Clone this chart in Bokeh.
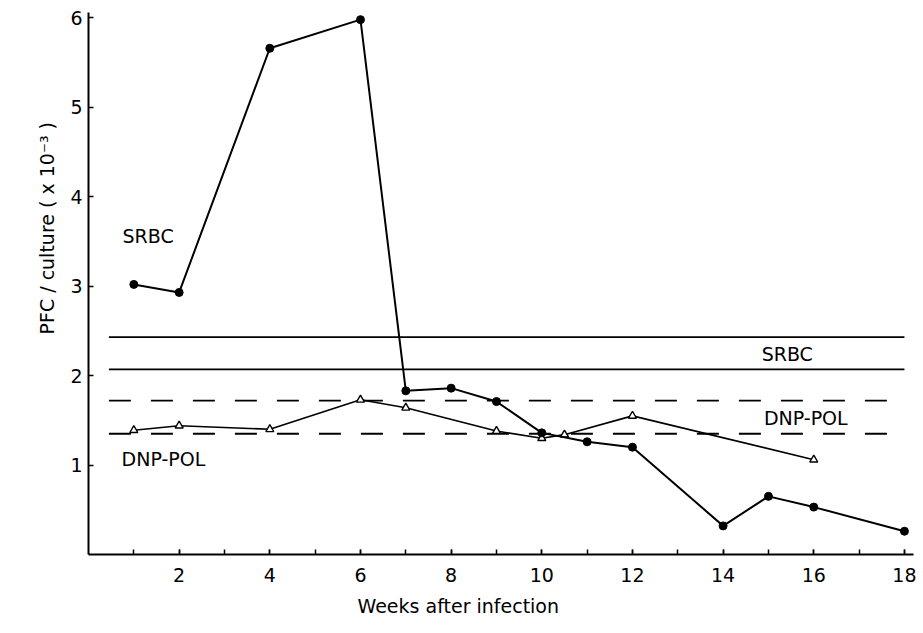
import math
from bokeh.plotting import figure
from bokeh.models import FixedTicker, Label, Range1d, Title
from bokeh.embed import file_html
from bokeh.resources import INLINE

# SRBC response (filled circles)
srbc_weeks = [1, 2, 4, 6, 7, 8, 9, 10, 11, 12, 14, 15, 16, 18]
srbc_pfc = [3.02, 2.93, 5.66, 5.98, 1.83, 1.86, 1.71, 1.36, 1.26, 1.20, 0.32, 0.65, 0.53, 0.26]

# DNP-POL response (open triangles)
dnp_weeks = [1, 2, 4, 6, 7, 9, 10, 10.5, 12, 16]
dnp_pfc = [1.39, 1.44, 1.40, 1.73, 1.64, 1.38, 1.30, 1.34, 1.55, 1.06]

# Normal ranges (horizontal bands)
srbc_band = [2.43, 2.07]
dnp_band = [1.72, 1.35]
band_start, band_end = 0.45, 18.0

x_ticks = [2, 4, 6, 8, 10, 12, 14, 16, 18]
x_minor = list(range(1, 19))
y_ticks = [1, 2, 3, 4, 5, 6]

FONT = "DejaVu Sans"

p = figure(width=918, height=624, output_backend="svg", toolbar_location=None,
           x_range=Range1d(0, 18.2), y_range=Range1d(0, 6.06),
           min_border_left=88, min_border_right=5, min_border_top=12, min_border_bottom=69)
p.outline_line_color = None
p.grid.visible = False
p.background_fill_color = "white"

for yv in srbc_band:
    p.line([band_start, band_end], [yv, yv], line_color="black", line_width=1.8)
for yv in dnp_band:
    p.line([band_start, band_end], [yv, yv], line_color="black", line_width=1.8, line_dash="22 20")

p.line(dnp_weeks, dnp_pfc, line_color="black", line_width=1.6)
p.scatter(dnp_weeks, dnp_pfc, marker="triangle", size=8, fill_color="white",
          line_color="black", line_width=1.4)

p.line(srbc_weeks, srbc_pfc, line_color="black", line_width=2)
p.scatter(srbc_weeks, srbc_pfc, marker="circle", size=8, fill_color="black", line_color="black")

# axes
p.xaxis.ticker = FixedTicker(ticks=x_ticks, minor_ticks=x_minor)
p.yaxis.ticker = FixedTicker(ticks=y_ticks, minor_ticks=[])
for ax in (p.xaxis, p.yaxis):
    ax.axis_line_width = 2
    ax.axis_line_color = "black"
    ax.major_tick_in = 5
    ax.major_tick_out = 0
    ax.minor_tick_in = 5
    ax.minor_tick_out = 0
    ax.major_tick_line_width = 1.5
    ax.minor_tick_line_width = 1.5
    ax.major_label_text_font = FONT
    ax.major_label_text_font_size = "19px"
    ax.major_label_text_color = "black"
p.yaxis.minor_tick_in = 0
p.xaxis.major_label_standoff = 13
p.yaxis.major_label_standoff = 6

# text labels
def lab(x, y, t, **kw):
    p.add_layout(Label(x=x, y=y, text=t, text_font=FONT, text_font_size="19px",
                       text_color="black", text_baseline="middle", **kw))

lab(0.75, 3.56, "SRBC")
lab(0.73, 1.07, "DNP-POL")
lab(14.85, 2.24, "SRBC")
lab(14.9, 1.53, "DNP-POL")

# axis titles
p.add_layout(Title(text="Weeks after infection", align="left", offset=269,
                   text_font=FONT, text_font_size="19px", text_font_style="normal",
                   text_color="black", standoff=16), "below")
p.add_layout(Title(text="PFC / culture ( x 10\u207b\u00b3 )", align="left", offset=220,
                   text_font=FONT, text_font_size="19px", text_font_style="normal",
                   text_color="black", standoff=20), "left")

open("out.html", "w").write(file_html(p, INLINE))
